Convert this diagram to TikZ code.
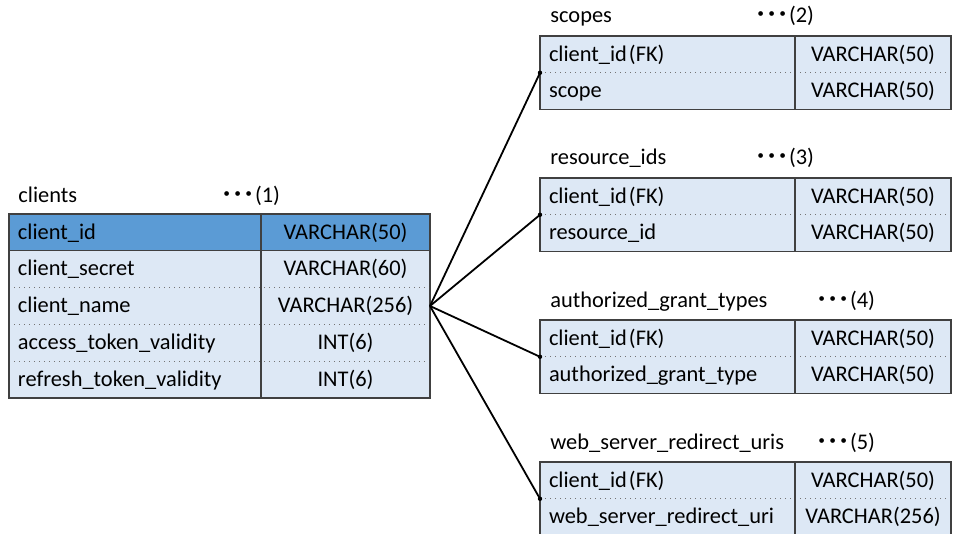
\documentclass[tikz,border=0pt]{standalone}
\usepackage{fontspec}
\setmainfont{Carlito}
\newfontfamily\cjk{Noto Sans CJK JP}
\usetikzlibrary{positioning}
\definecolor{keyfill}{HTML}{5B9BD5}
\definecolor{rowfill}{HTML}{DDE8F5}
\definecolor{rulecol}{HTML}{404040}
\tikzset{
  cell/.style={rectangle, inner ysep=0pt, outer sep=0pt, minimum height=18.4pt,
    text height=1.85ex, text depth=0.45ex, fill=rowfill},
  namecol/.style={cell, inner xsep=4.5pt, text width=117pt, align=left},
  typecol/.style={cell, inner xsep=0pt, text width=84.5pt, align=center},
  rnamecol/.style={cell, inner xsep=4.5pt, text width=118.5pt, align=left},
  rtypecol/.style={cell, inner xsep=0pt, text width=78pt, align=center},
  title/.style={anchor=base west, inner sep=0pt},
  frame/.style={draw=rulecol, line width=0.6pt},
  sep/.style={draw=black!55, line width=0.5pt, dotted},
  link/.style={line width=0.9pt}
}
\newcommand{\refdots}{{\cjk\bfseries ･･･}}
\begin{document}
\begin{tikzpicture}[x=0.5pt,y=-0.5pt,font=\fontsize{11.2}{13}\selectfont]
\useasboundingbox (0,0) rectangle (953,534);
% clients
\node[title] (clients) at (18,203) {clients};
\node[title] (clients-no) at (221,203) {\refdots(1)};
\node[namecol, fill=keyfill, anchor=north west] (c1) at (9,214) {client\_id};
\node[typecol, fill=keyfill, right=0pt of c1] (c1t) {VARCHAR(50)};
\node[namecol, below=0pt of c1] (c2) {client\_secret};
\node[typecol, right=0pt of c2] (c2t) {VARCHAR(60)};
\node[namecol, below=0pt of c2] (c3) {client\_name};
\node[typecol, right=0pt of c3] (c3t) {VARCHAR(256)};
\node[namecol, below=0pt of c3] (c4) {access\_token\_validity};
\node[typecol, right=0pt of c4] (c4t) {INT(6)};
\node[namecol, below=0pt of c4] (c5) {refresh\_token\_validity};
\node[typecol, right=0pt of c5] (c5t) {INT(6)};
\draw[frame] (c1.south west) -- (c1t.south east);
\foreach \r in {2,3,4} \draw[sep] (c\r.south west) -- (c\r t.south east);
\draw[frame] (c1.north east) -- (c5.south east);
\draw[frame] (c1.north west) rectangle (c5t.south east);
% child tables
\foreach \i/\y/\tname/\nx/\rname/\rtype in {
    2/36/scopes/755/scope/VARCHAR(50),
    3/178/resource\_ids/755/resource\_id/VARCHAR(50),
    4/320/authorized\_grant\_types/816/authorized\_grant\_type/VARCHAR(50),
    5/462/web\_server\_redirect\_uris/816/web\_server\_redirect\_uri/VARCHAR(256)}{
  \node[title] (tab\i) at (550,\y-13) {\tname};
  \node[title] (tab\i-no) at (\nx,\y-13) {\refdots(\i)};
  \node[rnamecol, anchor=north west] (n\i-1) at (540,\y) {client\_id\kern1pt(FK)};
  \node[rtypecol, right=0pt of n\i-1] (t\i-1) {VARCHAR(50)};
  \node[rnamecol, below=0pt of n\i-1] (n\i-2) {\rname};
  \node[rtypecol, right=0pt of n\i-2] (t\i-2) {\rtype};
  \draw[sep] (n\i-1.south west) -- (t\i-1.south east);
  \draw[frame] (n\i-1.north east) -- (n\i-2.south east);
  \draw[frame] (n\i-1.north west) rectangle (t\i-2.south east);
  \draw[link] (c3t.east) -- (n\i-1.south west);
  \fill (n\i-1.south west) circle (2.2);
}
\end{tikzpicture}
\end{document}
